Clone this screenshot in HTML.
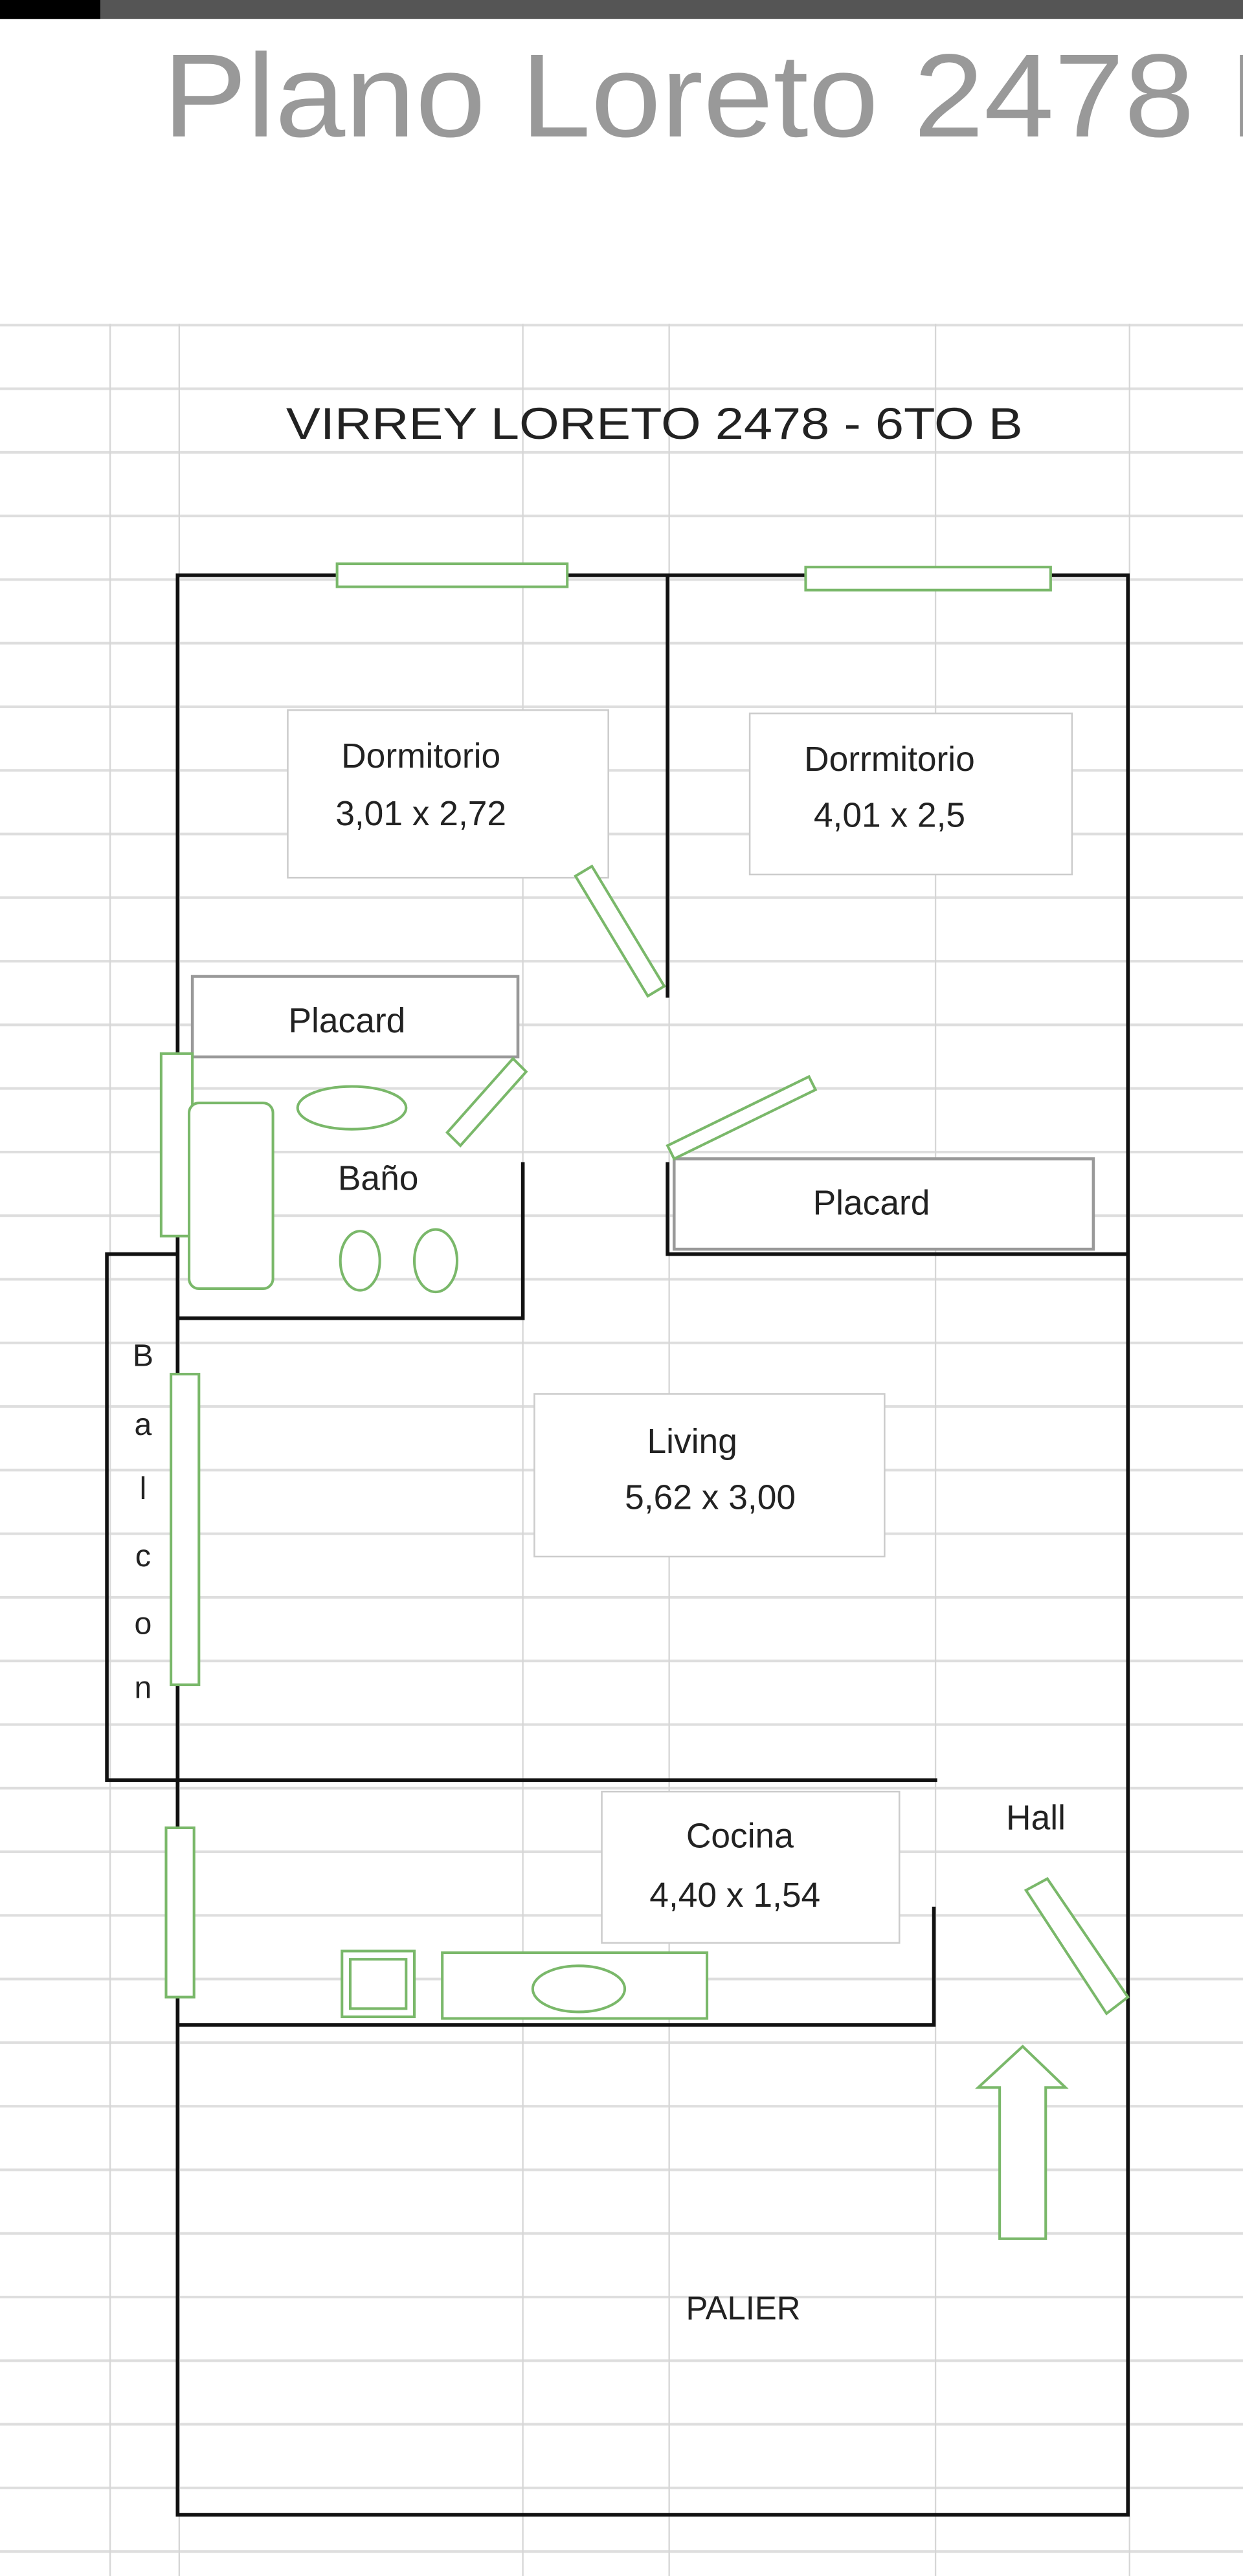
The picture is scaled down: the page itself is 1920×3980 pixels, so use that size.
<!DOCTYPE html>
<html><head><meta charset="utf-8"><style>
html,body{margin:0;padding:0;background:#fff;}
svg{display:block;}
text{font-family:"Liberation Sans",sans-serif;}
</style></head><body>
<svg width="1920" height="3980" viewBox="0 0 756 1567.2" preserveAspectRatio="none" xmlns="http://www.w3.org/2000/svg">
<defs>
<pattern id="rows" x="0" y="197" width="756" height="38.7" patternUnits="userSpaceOnUse">
<rect x="0" y="0" width="756" height="1.6" fill="#dedede"/>
</pattern>
</defs>
<rect width="756" height="1568" fill="#fff"/>
<rect x="0" y="0" width="756" height="11.5" fill="#555"/>
<rect x="0" y="0" width="61" height="11.5" fill="#000"/>
<text x="99" y="83" font-size="72" fill="#999" textLength="700" lengthAdjust="spacingAndGlyphs">Plano Loreto 2478 P</text>
<rect x="0" y="197" width="756" height="1371" fill="url(#rows)"/>
<g stroke="#d6d6d6" stroke-width="0.9">
<line x1="67" y1="197" x2="67" y2="1568"/>
<line x1="109" y1="197" x2="109" y2="1568"/>
<line x1="318" y1="197" x2="318" y2="1568"/>
<line x1="407" y1="197" x2="407" y2="1568"/>
<line x1="569" y1="197" x2="569" y2="1568"/>
<line x1="687" y1="197" x2="687" y2="1568"/>
</g>
<text x="174" y="267" font-size="27" fill="#222" textLength="448" lengthAdjust="spacingAndGlyphs">VIRREY LORETO 2478 - 6TO B</text>
<g stroke="#111" stroke-width="2.2" fill="none">
<rect x="108" y="350" width="578" height="1180"/>
<line x1="406" y1="350" x2="406" y2="607"/>
<polyline points="406,707 406,763 686,763"/>
<polyline points="318,707 318,802 108,802"/>
<polyline points="108,763 65,763 65,1083 570,1083"/>
<polyline points="568,1160 568,1232 108,1232"/>
</g>
<g fill="#fff" stroke="#ccc" stroke-width="1">
<rect x="175" y="432" width="195" height="102"/>
<rect x="456" y="434" width="196" height="98"/>
<rect x="325" y="848" width="213" height="99"/>
<rect x="366" y="1090" width="181" height="92"/>
</g>
<g fill="#fff" stroke="#999" stroke-width="1.8">
<rect x="117" y="594" width="198" height="49"/>
<rect x="410" y="705" width="255" height="55"/>
</g>
<g font-size="21" fill="#222" text-anchor="middle">
<text x="256" y="467">Dormitorio</text>
<text x="256" y="502">3,01 x 2,72</text>
<text x="541" y="469">Dorrmitorio</text>
<text x="541" y="503">4,01 x 2,5</text>
<text x="211" y="628">Placard</text>
<text x="530" y="739">Placard</text>
<text x="230" y="724">Baño</text>
<text x="421" y="884">Living</text>
<text x="432" y="918">5,62 x 3,00</text>
<text x="450" y="1124">Cocina</text>
<text x="447" y="1160">4,40 x 1,54</text>
<text x="630" y="1113">Hall</text>
<text x="452" y="1411" font-size="20">PALIER</text>
<text x="87" y="831" font-size="19">B</text>
<text x="87" y="873" font-size="19">a</text>
<text x="87" y="912" font-size="19">l</text>
<text x="87" y="953" font-size="19">c</text>
<text x="87" y="994" font-size="19">o</text>
<text x="87" y="1033" font-size="19">n</text>
</g>
<g fill="#fff" stroke="#7ab86a" stroke-width="1.6">
<rect x="205" y="343" width="140" height="14"/>
<rect x="490" y="345" width="149" height="14"/>
<polygon points="350,533 360,527 404,600 394,606"/>
<polygon points="312,644 320,652 280,697 272,689"/>
<polygon points="406,697 410,705 496,663 492,655"/>
<rect x="98" y="641" width="19" height="111"/>
<rect x="115" y="671" width="51" height="113" rx="6"/>
<ellipse cx="214" cy="674" rx="33" ry="13"/>
<ellipse cx="219" cy="767" rx="12" ry="18"/>
<ellipse cx="265" cy="767" rx="13" ry="19"/>
<rect x="104" y="836" width="17" height="189"/>
<rect x="101" y="1112" width="17" height="103"/>
<rect x="208" y="1187" width="44" height="40"/>
<rect x="213" y="1192" width="34" height="30"/>
<rect x="269" y="1188" width="161" height="40"/>
<ellipse cx="352" cy="1210" rx="28" ry="14"/>
<polygon points="624,1150 637,1143 686,1215 673,1225"/>
<polygon points="622,1245 648,1270 636,1270 636,1362 608,1362 608,1270 595,1270"/>
</g>
</svg>
</body></html>
